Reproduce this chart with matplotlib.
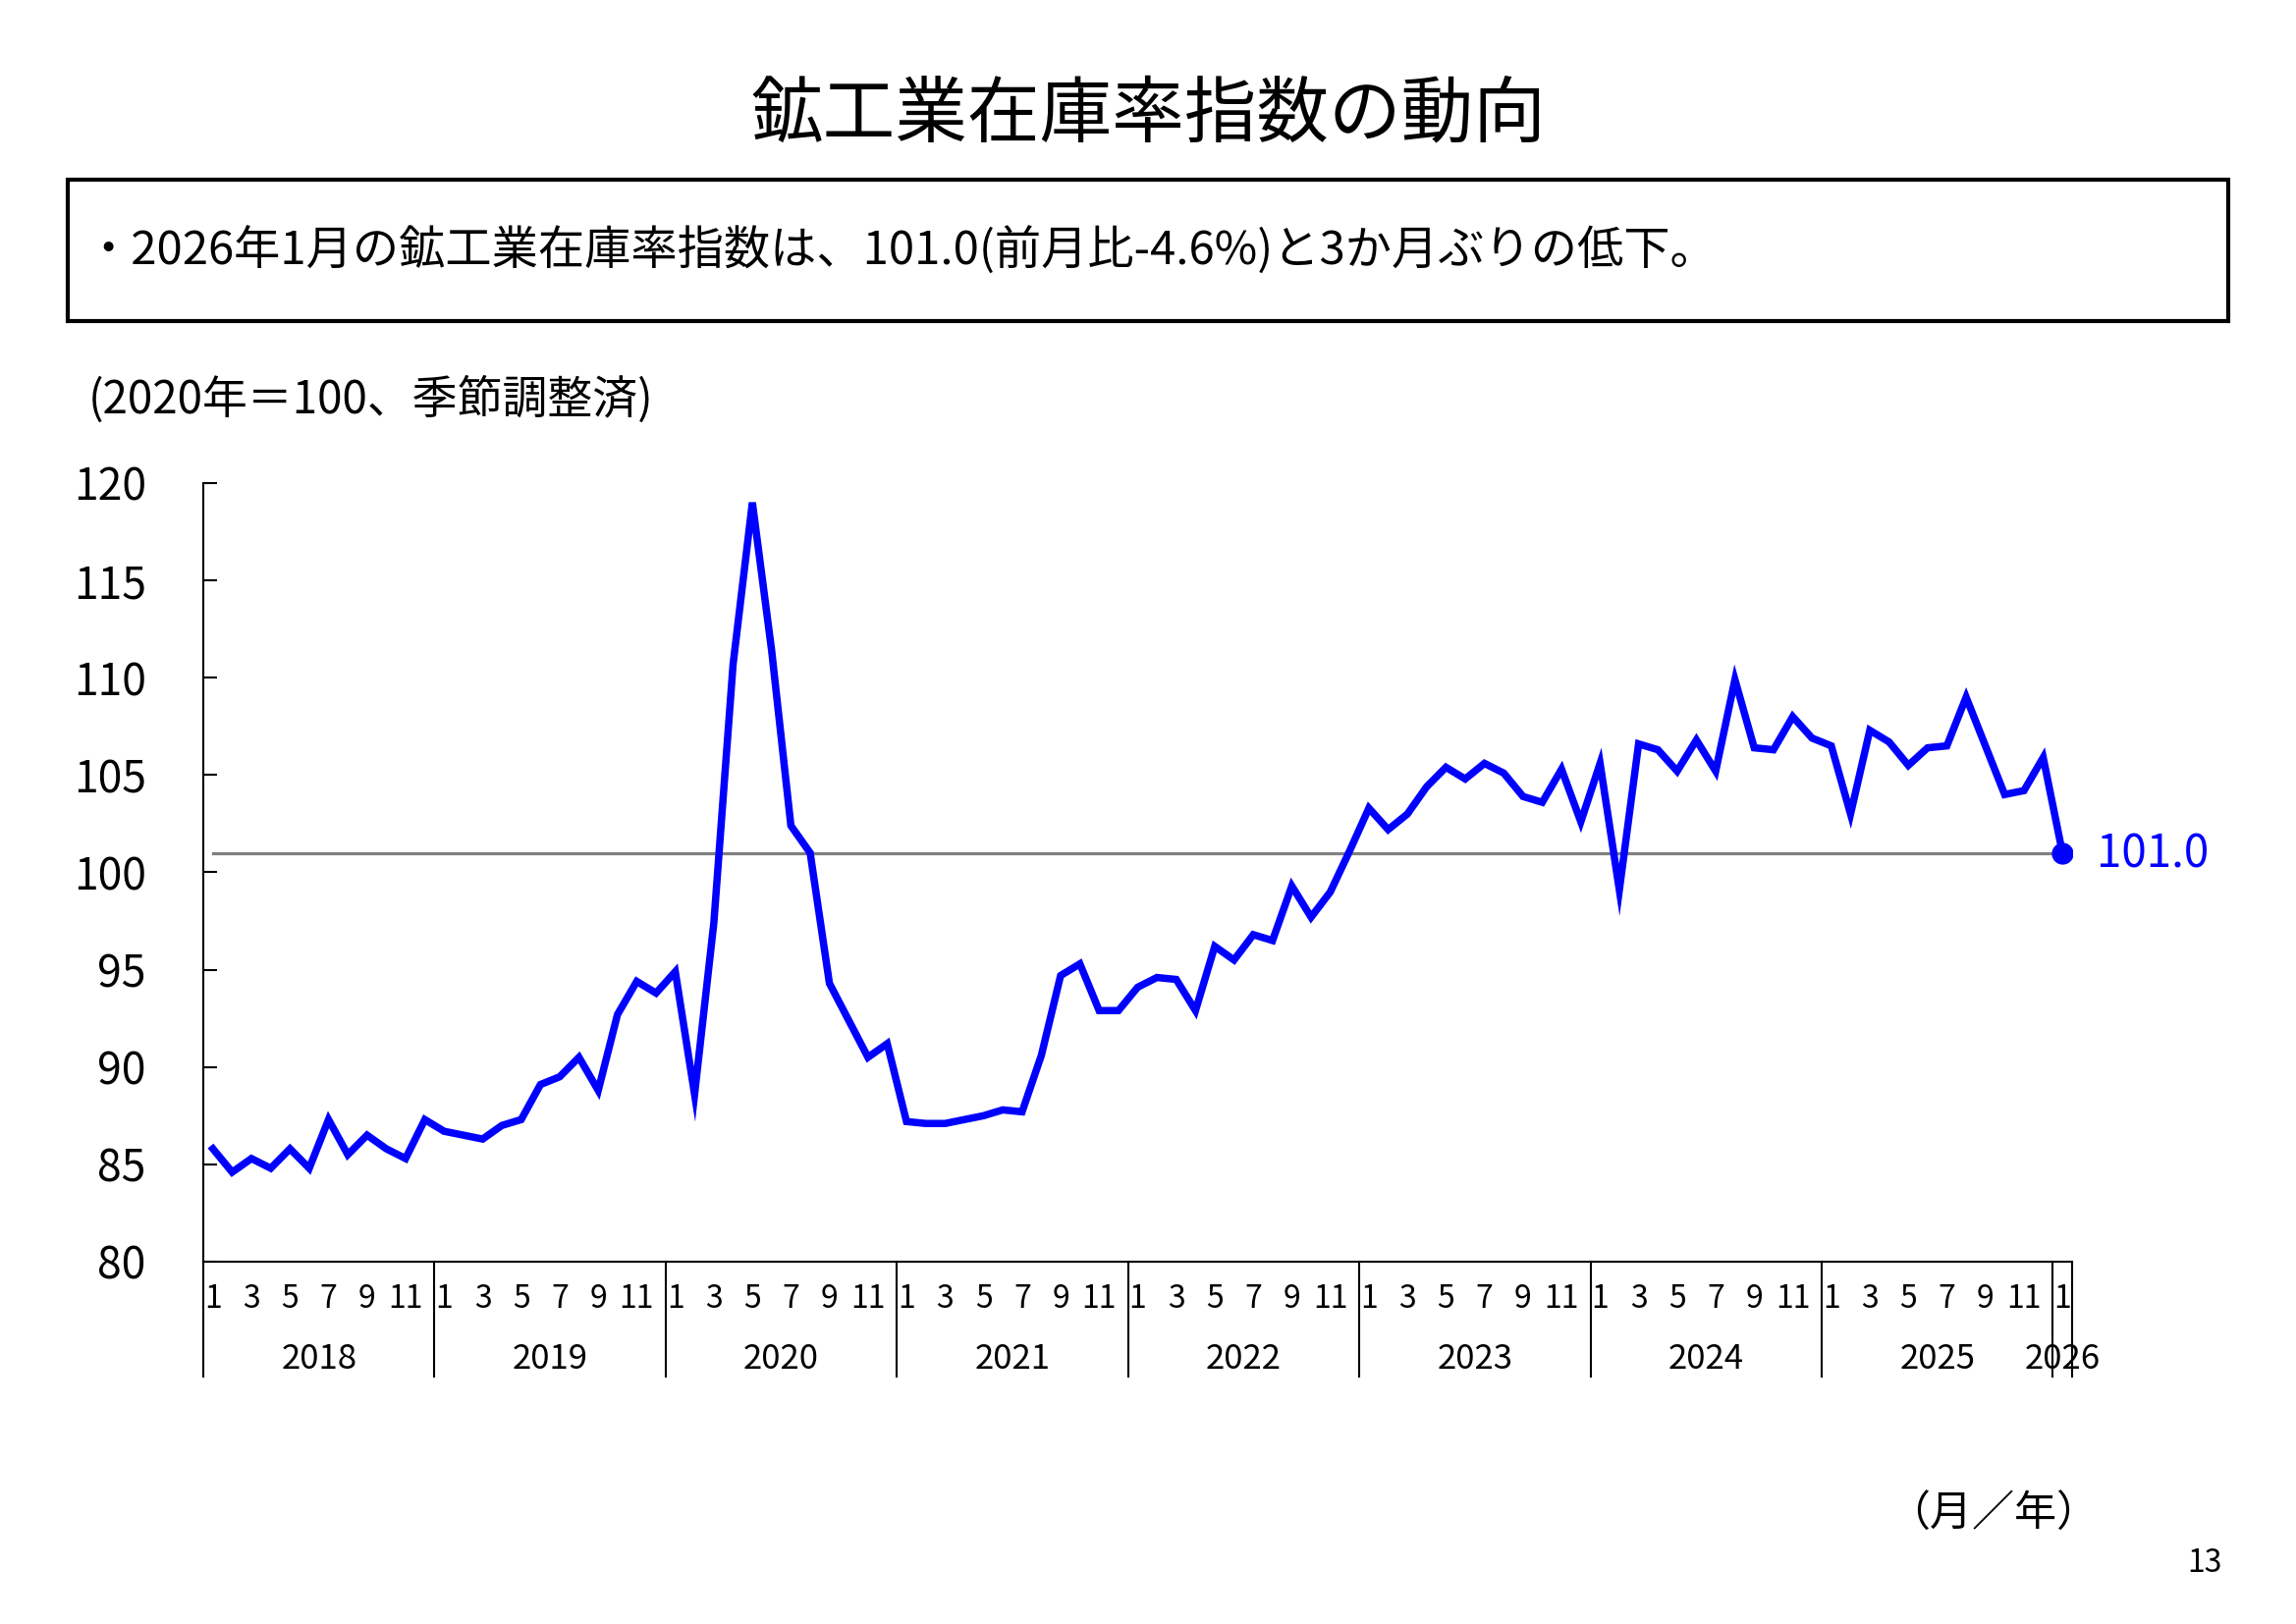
import matplotlib
matplotlib.use('Agg')
import matplotlib.pyplot as plt
from matplotlib.patches import Rectangle
import numpy as np

plt.rcParams['font.family'] = ['Noto Sans CJK JP', 'DejaVu Sans']

# ---- data (2020=100, seasonally adjusted) ----
years = [2018, 2019, 2020, 2021, 2022, 2023, 2024, 2025, 2026]
v2018 = [85.8, 84.6, 85.3, 84.8, 85.8, 84.8, 87.3, 85.5, 86.5, 85.8, 85.3, 87.3]
v2019 = [86.7, 86.5, 86.3, 87.0, 87.3, 89.1, 89.5, 90.5, 88.8, 92.7, 94.4, 93.8]
v2020 = [94.9, 88.6, 97.4, 110.7, 119.0, 111.4, 102.4, 101.0, 94.3, 92.4, 90.5, 91.2]
v2021 = [87.2, 87.1, 87.1, 87.3, 87.5, 87.8, 87.7, 90.6, 94.7, 95.3, 92.9, 92.9]
v2022 = [94.1, 94.6, 94.5, 92.9, 96.2, 95.5, 96.8, 96.5, 99.3, 97.7, 99.0, 101.1]
v2023 = [103.3, 102.2, 103.0, 104.4, 105.4, 104.8, 105.6, 105.1, 103.9, 103.6, 105.3, 102.6]
v2024 = [105.6, 99.1, 106.6, 106.3, 105.2, 106.8, 105.2, 109.9, 106.4, 106.3, 108.0, 106.9]
v2025 = [106.5, 103.0, 107.3, 106.7, 105.5, 106.4, 106.5, 109.0, 106.5, 104.0, 104.2, 105.9]
v2026 = [101.0]

series_by_year = [v2018, v2019, v2020, v2021, v2022, v2023, v2024, v2025, v2026]
values = [v for ys in series_by_year for v in ys]
months = [(y, m + 1) for y, ys in zip(years, series_by_year) for m in range(len(ys))]

title = "鉱工業在庫率指数の動向"
summary = "・2026年1月の鉱工業在庫率指数は、101.0(前月比-4.6%)と3か月ぶりの低下。"
unit_label = "(2020年＝100、季節調整済)"
x_unit = "（月／年）"
page_no = "13"
month_labels_shown = [1, 3, 5, 7, 9, 11]

BLUE = '#0000FF'
W, H = 2338, 1654
fig = plt.figure(figsize=(W / 100, H / 100), dpi=100)

# title & summary box
fig.text(0.5, 1 - 118 / H, title, ha='center', va='center', fontsize=53)
fig.patches.append(Rectangle((68.6 / W, 1 - 326.5 / H), (2269.3 - 68.6) / W, (326.5 - 183.4) / H,
                             transform=fig.transFigure, fill=False, edgecolor='black', linewidth=3))
fig.text(86 / W, 1 - 256 / H, summary, ha='left', va='center', fontsize=34)
fig.text(90 / W, 1 - 408 / H, unit_label, ha='left', va='center', fontsize=33)
fig.text(2030 / W, 1 - 1543 / H, x_unit, ha='center', va='center', fontsize=31)
fig.text(2245 / W, 1 - 1592 / H, page_no, ha='center', va='center', fontsize=23)

# axes
left, right, top, bottom = 207, 2110, 492, 1285
ax = fig.add_axes([left / W, 1 - bottom / H, (right - left) / W, (bottom - top) / H])
x = np.arange(len(values))
ax.plot([x[0], x[-1]], [values[-1], values[-1]], color='#808080', lw=2.3, zorder=1)
ax.plot(x, values, color=BLUE, lw=5.4, solid_joinstyle='miter', zorder=3)
ax.plot(x[-1], values[-1], 'o', color=BLUE, ms=15, zorder=4)
ax.annotate(f"{values[-1]:.1f}", xy=(x[-1], values[-1]), xytext=(25, -1),
            textcoords='offset points', color=BLUE, va='center', ha='left', fontsize=33)

ax.set_xlim(-0.5, len(values) - 0.5)
ax.set_ylim(80, 120)
ax.set_yticks(np.arange(80, 121, 5))
ax.tick_params(axis='y', direction='in', length=10, width=1.5, labelsize=32, pad=42)
ax.set_xticks([])
for s in ['top', 'right']:
    ax.spines[s].set_visible(False)
for s in ['left', 'bottom']:
    ax.spines[s].set_linewidth(1.5)

xt = ax.get_xaxis_transform()
sep_depth = -(1402 - bottom) / (bottom - top)
month_y = -(1323 - bottom) / (bottom - top)
year_y = -(1384 - bottom) / (bottom - top)

for i, (yy, mm) in enumerate(months):
    if mm in month_labels_shown:
        ax.text(i, month_y, str(mm), transform=xt, ha='center', va='center', fontsize=23)

boundaries = [i - 0.5 for i, (yy, mm) in enumerate(months) if mm == 1] + [len(values) - 0.5]
for b in boundaries:
    ax.plot([b, b], [0, sep_depth], transform=xt, color='black', lw=1.5, clip_on=False)

for yr in years:
    idx = [i for i, (yy, mm) in enumerate(months) if yy == yr]
    ax.text((idx[0] + idx[-1]) / 2, year_y, str(yr), transform=xt, ha='center', va='center', fontsize=25)

fig.savefig('out.png', dpi=100)
